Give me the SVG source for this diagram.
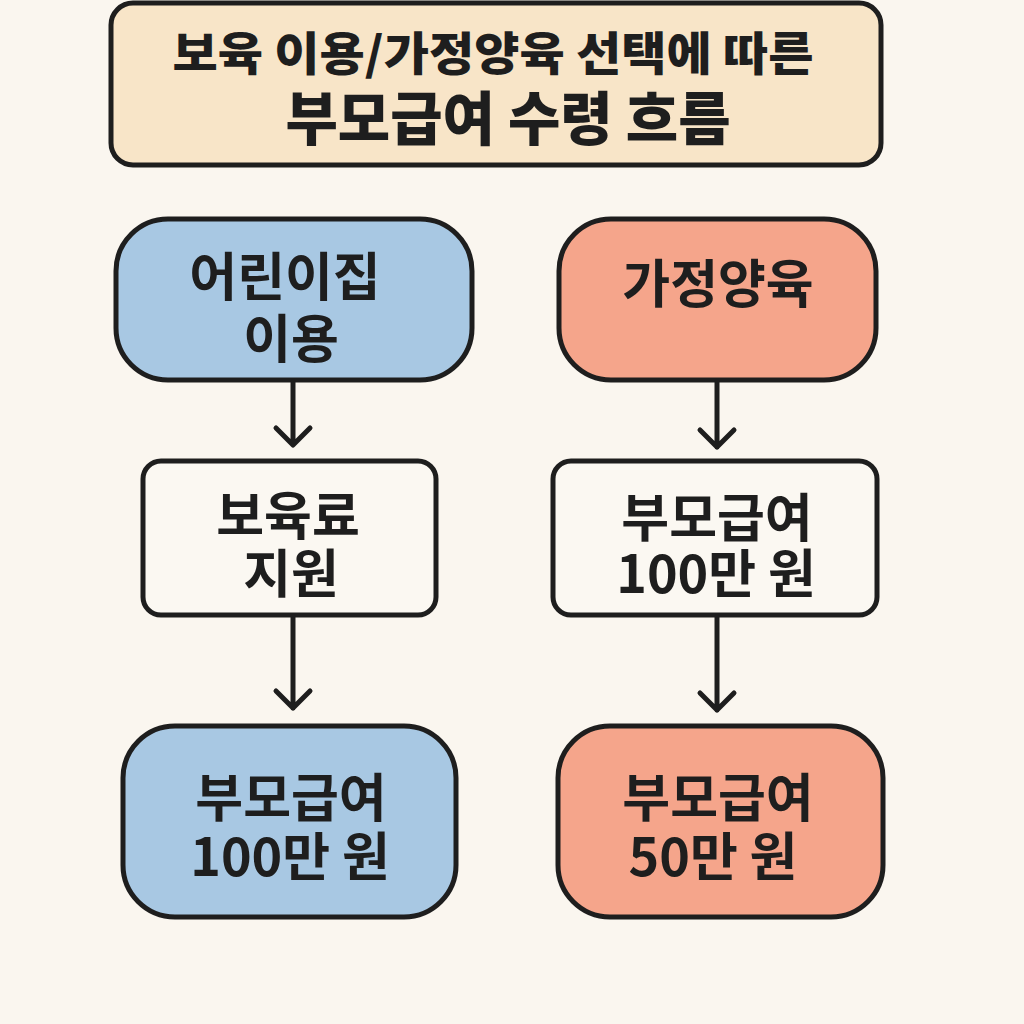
<svg xmlns="http://www.w3.org/2000/svg" width="1024" height="1024" viewBox="0 0 1024 1024">
<style>
.box{stroke:#1e1e1e;stroke-width:5}
.t{font-family:"Noto Sans CJK KR","Noto Sans",sans-serif;font-weight:700;fill:#1e1e1e;text-anchor:middle;font-size:52px}
.h{font-weight:900}
.c{stroke:#1e1e1e;stroke-width:5;fill:none;stroke-linecap:round;stroke-linejoin:round}
</style>
<rect width="1024" height="1024" fill="#faf6ef"/>
<g id="title">
<rect class="box" x="111" y="3" width="770" height="162" rx="22" fill="#f8e5c8"/>
<text class="t h" x="493" y="70" style="font-size:46px" textLength="641" lengthAdjust="spacingAndGlyphs">보육 이용/가정양육 선택에 따른</text>
<text class="t h" x="508" y="140" style="font-size:58px" textLength="445" lengthAdjust="spacingAndGlyphs">부모급여 수령 흐름</text>
</g>
<g id="daycare">
<rect class="box" x="116" y="219" width="356" height="161" rx="52" fill="#a8c8e3"/>
<text class="t" x="285" y="296">어린이집</text>
<text class="t" x="291" y="358">이용</text>
</g>
<g id="homecare">
<rect class="box" x="559" y="219" width="317" height="161" rx="52" fill="#f5a58b"/>
<text class="t" x="718" y="303">가정양육</text>
</g>
<g id="subsidy">
<rect class="box" x="143" y="461" width="293" height="154" rx="18" fill="#fbf8f2"/>
<text class="t" x="288" y="535">보육료</text>
<text class="t" x="291" y="593">지원</text>
</g>
<g id="pay100mid">
<rect class="box" x="553" y="461" width="324" height="154" rx="18" fill="#fbf8f2"/>
<text class="t" x="717" y="537">부모급여</text>
<text class="t" x="716" y="593">100만 원</text>
</g>
<g id="pay100">
<rect class="box" x="123" y="726" width="333" height="191" rx="52" fill="#a8c8e3"/>
<text class="t" x="291" y="817">부모급여</text>
<text class="t" x="290" y="876">100만 원</text>
</g>
<g id="pay50">
<rect class="box" x="558" y="726" width="325" height="191" rx="52" fill="#f5a58b"/>
<text class="t" x="718" y="817">부모급여</text>
<text class="t" x="713" y="876">50만 원</text>
</g>
<g id="connectors">
<path class="c" d="M293 382V444M276 428L293 445L310 428"/>
<path class="c" d="M293 617V708M276 691L293 708L310 691"/>
<path class="c" d="M717 382V447M700 430L717 447L734 430"/>
<path class="c" d="M717 617V710M700 693L717 710L734 693"/>
</g>
</svg>
